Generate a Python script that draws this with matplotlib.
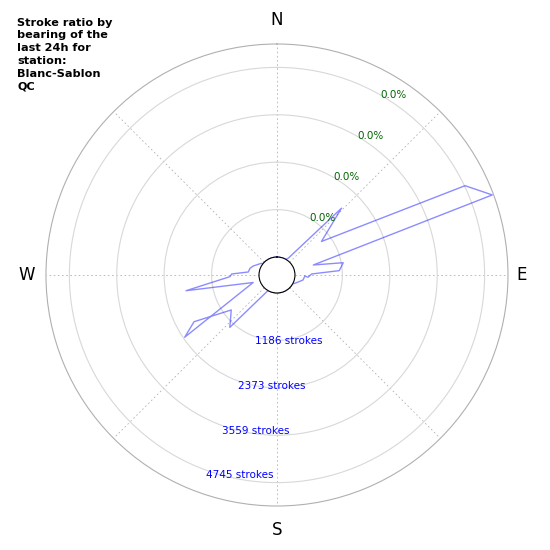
import numpy as np
import matplotlib
matplotlib.use('Agg')
import matplotlib.pyplot as plt

# stroke counts by bearing (degrees from north, clockwise)
bearings = [0, 10, 20, 30, 34, 44, 53, 64.6, 69.6, 74.6, 79.5, 86, 88.3, 94.2, 92, 101, 113,
            120, 130, 140, 150, 160, 170, 180, 190, 200, 210, 215, 222, 232.6, 240.6, 236,
            252.5, 260.2, 268, 271.3, 276, 284, 290.8, 305, 310, 320, 330, 340, 350, 360]
strokes = [0, 0, 0, 0, 60, 1874, 944, 4760, 5297, 493, 1237, 1112, 418, 327, 250, 212, 60,
           0, 0, 0, 0, 0, 0, 0, 0, 0, 0, 200, 1314, 990, 1932, 2336,
           175, 1860, 726, 683, 272, 245, 185, 50, 0, 0, 0, 0, 0, 0]

ring_values = [1186, 2373, 3559, 4745]
ring_strokes = ['1186 strokes', '2373 strokes', '3559 strokes', '4745 strokes']
ring_pct = ['0.0%', '0.0%', '0.0%', '0.0%']
compass = ['N', 'E', 'S', 'W']
compass_bearing = [0, 90, 180, 270]
compass_r = [5930, 5680, 5930, 5800]  # label distance, in data units beyond the rim

title = 'Stroke ratio by\nbearing of the\nlast 24h for\nstation:\nBlanc-Sablon\nQC'

fig = plt.figure(figsize=(5.5, 5.5), dpi=100)
ax = fig.add_axes([0.0836, 0.08, 0.84, 0.84], projection='polar')
ax.set_theta_zero_location('N')
ax.set_theta_direction(-1)
ax.set_ylim(0, 5330)
ax.set_rorigin(-450)

ax.plot(np.radians(bearings), strokes, color='blue', alpha=0.45, lw=1)

ax.set_xticks(np.radians(np.arange(0, 360, 45)))
ax.set_xticklabels([])
ax.set_yticks(ring_values)
ax.set_yticklabels([])
ax.xaxis.grid(True, ls=(0, (2, 3)), color='gray', lw=0.6, alpha=0.6)
ax.yaxis.grid(True, ls='-', color='#d8d8d8', lw=0.8)
ax.spines['polar'].set_color('#b0b0b0')
ax.spines['polar'].set_linewidth(0.8)
ax.spines['inner'].set_color('black')
ax.spines['inner'].set_linewidth(0.8)

for b, r, lab in zip(compass_bearing, compass_r, compass):
    ax.text(np.radians(b), r, lab, fontsize=12, ha='center', va='center', clip_on=False)

for r, lab in zip(ring_values, ring_pct):
    ax.text(np.radians(30), r, lab, color='darkgreen', fontsize=7.5, ha='left', va='center')
for r, lab in zip(ring_values, ring_strokes):
    ax.text(np.radians(200), r, lab, color='blue', fontsize=7.5, ha='left', va='top')

fig.text(0.031, 0.968, title, fontsize=8.1, fontweight='bold', ha='left', va='top',
         linespacing=1.35)

fig.savefig('out.png', dpi=100)
